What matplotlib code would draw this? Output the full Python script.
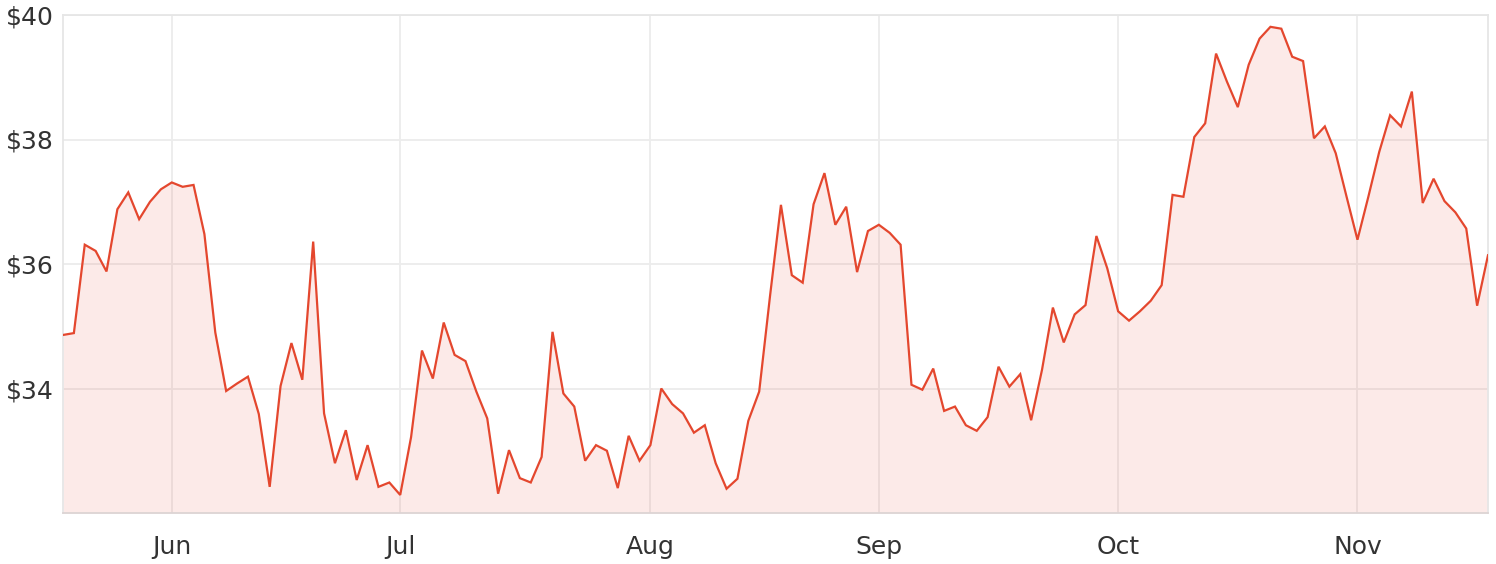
import matplotlib
matplotlib.use("Agg")
import matplotlib.pyplot as plt
import numpy as np

# Daily closing prices
prices = [
    34.86, 34.89, 36.31, 36.21, 35.88, 36.88, 37.15, 36.72, 37.00, 37.20,
    37.31, 37.24, 37.27, 36.48, 34.90, 33.96, 34.08, 34.19, 33.59, 32.42,
    34.04, 34.73, 34.14, 36.36, 33.60, 32.80, 33.33, 32.53, 33.09, 32.42,
    32.49, 32.29, 33.22, 34.61, 34.16, 35.06, 34.54, 34.44, 33.95, 33.52,
    32.31, 33.01, 32.56, 32.49, 32.90, 34.91, 33.92, 33.71, 32.84, 33.09,
    33.00, 32.40, 33.24, 32.84, 33.09, 34.00, 33.75, 33.60, 33.29, 33.41,
    32.80, 32.39, 32.55, 33.48, 33.95, 35.49, 36.95, 35.82, 35.70, 36.96,
    37.46, 36.63, 36.92, 35.87, 36.53, 36.63, 36.50, 36.31, 34.06, 33.98,
    34.32, 33.64, 33.71, 33.41, 33.32, 33.54, 34.35, 34.03, 34.23, 33.49,
    34.30, 35.30, 34.74, 35.19, 35.34, 36.45, 35.93, 35.24, 35.09, 35.24,
    35.41, 35.66, 37.11, 37.08, 38.04, 38.26, 39.38, 38.93, 38.52, 39.20,
    39.62, 39.81, 39.78, 39.33, 39.26, 38.02, 38.21, 37.78, 37.08, 36.39,
    37.08, 37.80, 38.39, 38.21, 38.77, 36.98, 37.37, 37.01, 36.83, 36.57,
    35.33, 36.14,
]

# First trading day of each month (index into prices) and labels
month_idx = [10, 31, 54, 75, 97, 119]
month_labels = ["Jun", "Jul", "Aug", "Sep", "Oct", "Nov"]

y_ticks = [34, 36, 38, 40]
y_labels = ["$34", "$36", "$38", "$40"]
y_min, y_max = 32, 40

line_color = "#e4472e"
text_color = "#333333"
grid_color = "#ececec"

plt.rcParams["font.family"] = ["DejaVu Sans"]

fig = plt.figure(figsize=(14.96, 5.64), dpi=100)
W, H = 1496, 564
ax = fig.add_axes([63 / W, (H - 513) / H, (1488 - 63) / W, (513 - 15) / H])

x = np.arange(len(prices))
ax.fill_between(x, prices, y_min, color=line_color, alpha=0.11, linewidth=0, zorder=2)
ax.plot(x, prices, color=line_color, linewidth=1.6, zorder=3, solid_joinstyle="miter")

ax.set_xlim(0, len(prices) - 1)
ax.set_ylim(y_min, y_max)

ax.set_xticks(month_idx)
ax.set_xticklabels(month_labels)
ax.set_yticks(y_ticks)
ax.set_yticklabels(y_labels)

ax.grid(True, color=grid_color, linewidth=1.3, zorder=1)
ax.set_axisbelow(True)

ax.tick_params(axis="both", length=0, labelsize=18, labelcolor=text_color)
ax.tick_params(axis="x", pad=16)
ax.tick_params(axis="y", pad=7)

for side in ["top", "right", "left"]:
    ax.spines[side].set_color("#e6e6e6")
    ax.spines[side].set_linewidth(1.3)
ax.spines["bottom"].set_color("#dcd4d4")
ax.spines["bottom"].set_linewidth(1.3)

fig.savefig("out.png", dpi=100)
